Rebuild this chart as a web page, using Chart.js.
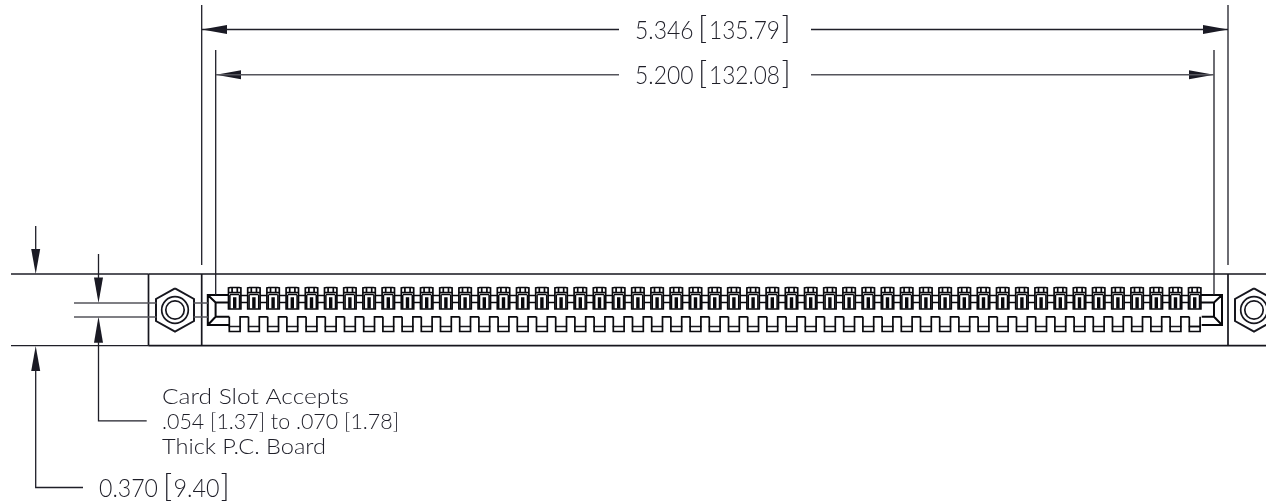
<!DOCTYPE html>
<html>
<head>
<meta charset="utf-8">
<style>
  html, body { margin: 0; padding: 0; background: #fff; }
  canvas { display: block; }
</style>
<script src="https://cdn.jsdelivr.net/npm/chart.js@4"></script>
</head>
<body>
<canvas id="myCanvas" width="1266" height="504"></canvas>
<script>
// everything below is in drawing units
const pinLeft = [228.5, 247.7, 266.9, 286.1, 305.3, 324.5, 343.7, 362.9, 382.1, 401.3, 420.5, 439.7, 458.9,
  478.1, 497.3, 516.5, 535.7, 554.9, 574.1, 593.3, 612.5, 631.7, 650.9, 670.1, 689.3, 708.5, 727.7, 746.9,
  766.1, 785.3, 804.5, 823.7, 842.9, 862.1, 881.3, 900.5, 919.7, 938.9, 958.1, 977.3, 996.5, 1015.7, 1034.9,
  1054.1, 1073.3, 1092.5, 1111.7, 1130.9, 1150.1, 1169.3, 1188.5];

const pinOutline = [[0, 296], [0, 288], [2, 287.5], [10.5, 287.5], [12.4, 288], [12.4, 309], [0, 309], [0, 296]];
const pinBandA = [[0, 292.5], [12.4, 292.5]];
const pinBandB = [[1.5, 294.5], [10.9, 294.5]];
const pinNotchA = [[3.6, 287.5], [3.6, 293]];
const pinNotchB = [[8.8, 287.5], [8.8, 293]];
const pinWallA = [[1.4, 309], [1.4, 295]];
const pinWallB = [[11, 309], [11, 295]];
const pinCore = [[6.2, 297.2], [6.2, 308.5]];
const channelTop = [[12.4, 295.5], [19.2, 295.5]];
const channelLow = [[12.4, 302.5], [19.2, 302.5]];
const combTooth = [[0.8, 316.8], [0.8, 331.5], [11.6, 331.5], [11.6, 316.8], [20, 316.8]];
const combInner = [[0.2, 326.5], [12.2, 326.5]];

const boxEdges = [
  [[148.5, 274], [1266, 274]],
  [[148.5, 345.7], [1266, 345.7]],
  [[148.5, 274], [148.5, 345.7]],
  [[201.7, 274], [201.7, 345.7]],
  [[1228, 274], [1228, 345.7]],
];
const slotEdges = [
  [[229, 295], [207.8, 295], [207.8, 325], [229, 325]],
  [[229, 302.5], [215.6, 302.5], [215.6, 316.8], [229.3, 316.8]],
  [[207.8, 295], [215.6, 302.5]],
  [[207.8, 325], [215.6, 316.8]],
  [[1201, 295], [1222, 295], [1222, 325], [1201.7, 325]],
  [[1201, 302.5], [1214, 302.5], [1214, 316.8], [1201.7, 316.8]],
  [[1222, 295], [1214, 302.5]],
  [[1222, 325], [1214, 316.8]],
];
const hexLeft = [[175, 288.3], [194, 299], [194, 321], [175, 331.7], [156, 321], [156, 299], [175, 288.3]];
const hexRight = [[1254, 288.3], [1273, 299], [1273, 321], [1254, 331.7], [1235, 321], [1235, 299], [1254, 288.3]];
const boreCentres = [[175, 310], [175, 310], [1254, 310], [1254, 310]];
const boreRadii = [13.3, 9.2, 13.3, 9.2];

const leaderLines = [
  [[11, 274], [148.5, 274]],
  [[11, 345.7], [148.5, 345.7]],
  [[201.7, 5], [201.7, 265]],
  [[1228, 5], [1228, 265]],
  [[215.7, 50], [215.7, 295]],
  [[1214, 50], [1214, 295]],
  [[202, 29.5], [619, 29.5]],
  [[811, 29.5], [1228, 29.5]],
  [[35.7, 226], [35.7, 250]],
  [[35.7, 370], [35.7, 487.5], [83, 487.5]],
  [[98.5, 254], [98.5, 278]],
  [[98.5, 342], [98.5, 420.8], [146.7, 420.8]],
];
const greyLines = [
  [[216, 74.8], [619, 74.8]],
  [[811, 74.8], [1214, 74.8]],
  [[74, 303], [156.5, 303]],
  [[74, 317], [156.5, 317]],
  [[193.5, 303], [208, 303]],
  [[193.5, 317], [208, 317]],
];
const arrowHeads = [
  [[202, 29.5], [227, 25], [227, 34], [202, 29.5]],
  [[1228, 29.5], [1203, 25], [1203, 34], [1228, 29.5]],
  [[216, 74.8], [241, 70.3], [241, 79.3], [216, 74.8]],
  [[1214, 74.8], [1189, 70.3], [1189, 79.3], [1214, 74.8]],
  [[35.7, 274], [31.2, 249], [40.2, 249], [35.7, 274]],
  [[35.7, 346], [31.2, 371], [40.2, 371], [35.7, 346]],
  [[98.5, 303], [94, 277.5], [103, 277.5], [98.5, 303]],
  [[98.5, 316.5], [94, 342.7], [103, 342.7], [98.5, 316.5]],
];

const labelTexts = ['5.346', '[', '135.79', ']', '5.200', '[', '132.08', ']', '0.370', '[', '9.40', ']',
  'Card Slot Accepts', '.054 [1.37] to .070 [1.78]', 'Thick P.C. Board'];
const labelX = [635, 698, 709, 781.5, 635, 698, 709, 781.5, 99, 163, 173.5, 220.5, 162, 162, 162];
const labelY = [39, 38.5, 39, 38.5, 84, 83.5, 84, 83.5, 497, 496.5, 497, 496.5, 404, 429, 454];
const labelW = [58.5, 9, 71, 9, 58.5, 9, 71, 9, 59, 9, 46, 9, 187, 237, 164];
const labelSize = [26, 31, 26, 31, 26, 31, 26, 31, 26, 31, 26, 31, 21, 21, 21];

function toPoints(lists) {
  const pts = [];
  lists.forEach(list => {
    list.forEach(p => pts.push({ x: p[0], y: p[1] }));
    pts.push({ x: list[0][0], y: null });
  });
  return pts;
}

function shifted(shape, dx) {
  return shape.map(p => [p[0] + dx, p[1]]);
}

function pinLists(shapes, count) {
  const lists = [];
  pinLeft.slice(0, count).forEach(left => {
    shapes.forEach(s => lists.push(shifted(s, left)));
  });
  return lists;
}

function lineSet(lists, color, width) {
  return {
    data: toPoints(lists),
    showLine: true,
    spanGaps: false,
    tension: 0,
    borderColor: color,
    borderWidth: width,
    pointRadius: 0,
    fill: false,
  };
}

const datasets = [
  lineSet(greyLines, '#55555c', 1.5),
  lineSet(leaderLines, '#1f1f28', 1.3),
  lineSet(boxEdges, '#16161e', 1.7),
  lineSet(slotEdges, '#08080c', 2),
  lineSet([hexLeft, hexRight], '#16161e', 2),
  lineSet(pinLists([pinOutline, pinBandA, pinBandB, pinNotchA, pinNotchB], pinLeft.length), '#08080c', 1.7),
  lineSet(pinLists([pinWallA, pinWallB], pinLeft.length), '#08080c', 1.5),
  lineSet(pinLists([pinCore], pinLeft.length), '#08080c', 3.4),
  lineSet(pinLists([channelTop, channelLow], pinLeft.length - 1), '#08080c', 1.7),
  lineSet(pinLists([combTooth], pinLeft.length - 1), '#08080c', 1.7),
  lineSet(pinLists([combTooth.slice(0, 4), combInner], pinLeft.length).slice(-2), '#08080c', 1.7),
  lineSet(pinLists([combInner], pinLeft.length), '#1c1c22', 1.5),
  {
    data: toPoints(boreCentres.map(p => [p])),
    showLine: false,
    pointStyle: 'circle',
    pointRadius: boreCentres.flatMap((p, i) => [boreRadii[i], 0]),
    pointBackgroundColor: 'transparent',
    pointBorderColor: '#16161e',
    pointBorderWidth: 1.7,
  },
];
arrowHeads.forEach(head => {
  datasets.push({
    data: head.map(p => ({ x: p[0], y: p[1] })),
    showLine: true,
    tension: 0,
    borderWidth: 0,
    pointRadius: 0,
    fill: 'shape',
    backgroundColor: '#1a1a24',
  });
});

const drawingLabels = {
  id: 'drawingLabels',
  afterDatasetsDraw(chart) {
    const { ctx, scales } = chart;
    ctx.save();
    ctx.fillStyle = '#1e1e28';
    ctx.textBaseline = 'alphabetic';
    labelTexts.forEach((text, i) => {
      ctx.font = '300 ' + labelSize[i] + 'px Lato, "Open Sans", sans-serif';
      const natural = ctx.measureText(text).width;
      ctx.save();
      ctx.translate(scales.x.getPixelForValue(labelX[i]), scales.y.getPixelForValue(labelY[i]));
      if (text !== '[' && text !== ']') ctx.scale(labelW[i] / natural, 1);
      ctx.fillText(text, 0, 0);
      ctx.restore();
    });
    ctx.restore();
  },
};

new Chart(document.getElementById('myCanvas'), {
  type: 'scatter',
  data: { datasets },
  plugins: [drawingLabels],
  options: {
    responsive: false,
    animation: false,
    devicePixelRatio: 1,
    layout: { padding: 0, autoPadding: false },
    plugins: { legend: { display: false }, tooltip: { enabled: false } },
    scales: {
      x: { type: 'linear', display: false, min: 0, max: 1266 },
      y: { type: 'linear', display: false, min: 0, max: 504, reverse: true },
    },
  },
});
</script>
</body>
</html>
